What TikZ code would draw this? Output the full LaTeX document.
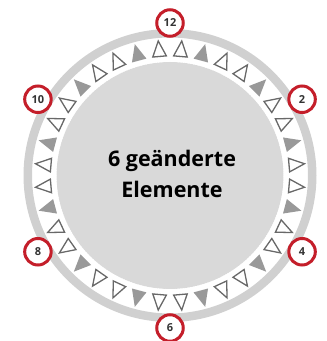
\documentclass[tikz,border=0pt]{standalone}
\usepackage{fontspec}
\setmainfont{Open Sans}
\definecolor{badgered}{HTML}{C41E2A}
\definecolor{bandgray}{HTML}{D0D0D0}
\definecolor{discgray}{HTML}{D9D9D9}
\definecolor{tristroke}{HTML}{686868}
\definecolor{trifill}{HTML}{999999}
\definecolor{numgray}{HTML}{333333}
\tikzset{
  outtri/.style={draw=tristroke, line width=1.3pt, fill=white, line join=miter},
  filltri/.style={fill=trifill},
  badge/.style={circle, draw=badgered, line width=3pt, fill=white, minimum size=26.5pt, inner sep=0pt,
    text=numgray, font=\bfseries\fontsize{11}{11}\selectfont},
  centerlabel/.style={align=center, font=\bfseries\fontsize{21.5}{30.5}\selectfont, text=black}
}
\begin{document}
\begin{tikzpicture}[x=1pt,y=1pt]
\useasboundingbox (0,0) rectangle (327,341);
\coordinate (c) at (170,165.5);
% outer band
\fill[bandgray, even odd rule] (c) circle (146.5) (c) circle (138);
% inner disc
\fill[discgray] (c) circle (113.5);
\draw[white, line width=0.8pt, dash pattern=on 1pt off 1.5pt] (c) circle (114);
% triangles
\foreach \k in {0,...,35} {
  \pgfmathsetmacro\ang{5+10*\k}
  \pgfmathtruncatemacro\m{mod(\k,3)}
  \begin{scope}[shift={(c)}, rotate=\ang]
    \ifnum\m=1
      \fill[filltri] (136,0) -- (119,7.5) -- (119,-7.5) -- cycle;
    \else
      \draw[outtri] (135,0) -- (119.5,6.8) -- (119.5,-6.8) -- cycle;
    \fi
  \end{scope}
}
% badges
\foreach \n/\a in {12/90, 2/30, 4/-30, 6/-90, 8/210, 10/150} {
  \node[badge] (b\n) at ([shift={(\a:152.5)}]c) {\n};
}
\node[centerlabel] (lbl) at (172,167) {6 geänderte\\Elemente};
\end{tikzpicture}
\end{document}
